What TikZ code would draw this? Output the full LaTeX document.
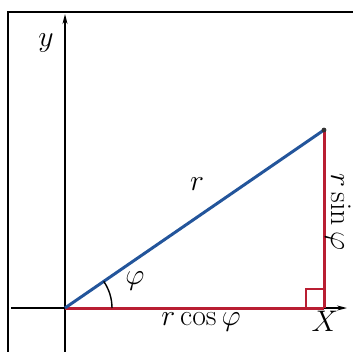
\documentclass[tikz,border=0pt]{standalone}
\usetikzlibrary{arrows.meta}
\definecolor{segblue}{RGB}{35,85,155}
\definecolor{segred}{RGB}{185,30,50}
\begin{document}
\begin{tikzpicture}[x=1bp,y=-1bp,
  axis/.style={line width=1.4bp,-{Stealth[length=10bp,width=5bp]}},
  frameline/.style={line width=1.3bp},
  bluel/.style={segblue,line width=3bp},
  redl/.style={segred,line width=3bp},
  lbl/.style={inner sep=0pt,scale=1.2,font=\fontsize{24.88}{28}\selectfont}]
\useasboundingbox (0,0) rectangle (353,352);
\draw[frameline] (8,352) -- (8,12) -- (353,12);
\coordinate (O) at (65,308);
\coordinate (P) at (324,130);
\coordinate (Q) at (324,308);
\coordinate (xend) at (347,308);
\coordinate (xstart) at (11,308);
\coordinate (ybot) at (65,352);
\coordinate (ytop) at (65,14);
\draw[axis] (xstart) -- (xend);
\draw[axis] (ybot) -- (ytop);
\draw[redl] (O) -- (Q);
\draw[redl] (P) -- (Q);
\draw[segred,line width=1.7bp] (306,308) -- (306,289) -- (324,289);
\draw[bluel] (O) -- (P);
\fill[black!80] (P) circle (2.4bp);
\draw[line width=1.4bp] ([shift={(0:47)}]O) arc[start angle=0,end angle=-34.5,radius=47];
\node[lbl] (ylab) at (46,43) {$y$};
\node[lbl] (rlab) at (197,184) {$r$};
\node[lbl] (philab) at (135,281) {$\varphi$};
\node[lbl] (rcos) at (201,322) {$r\cos\varphi$};
\node[lbl] (xlab) at (325,321) {$X$};
\node[lbl,rotate=-90] (rsin) at (338,212) {$r\sin\varphi$};
\end{tikzpicture}
\end{document}
